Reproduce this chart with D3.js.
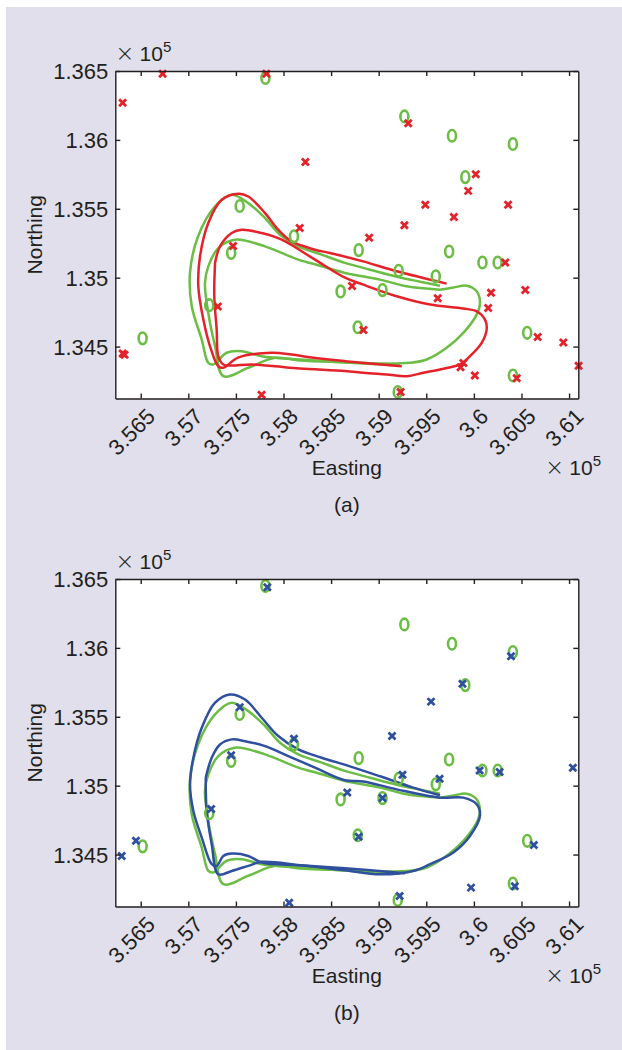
<!DOCTYPE html>
<html>
<head>
<meta charset="utf-8">
<script src="https://cdn.jsdelivr.net/npm/d3@7"></script>
<style>
  body { margin: 0; background: #fff; }
  svg { display: block; }
  text { font-family: "Liberation Sans", Arial, Helvetica, sans-serif; fill: #231f20; }
</style>
</head>
<body>
<div id="chart"></div>
<script>
// tick values (x 1e5)
var xTicks = [3.565, 3.57, 3.575, 3.58, 3.585, 3.59, 3.595, 3.6, 3.605, 3.61];
var xTickLabels = ["3.565", "3.57", "3.575", "3.58", "3.585", "3.59", "3.595", "3.6", "3.605", "3.61"];
var yTicks = [1.345, 1.35, 1.355, 1.36, 1.365];
var yTickLabels = ["1.345", "1.35", "1.355", "1.36", "1.365"];
var xDomain = [3.56233, 3.61097];
var yDomain = [1.34123, 1.365];

// true positions (o), same in both panels
var greenPoints = [
  [3.5781, 1.3645], [3.5927, 1.3617], [3.5977, 1.3603], [3.6041, 1.3597], [3.5991, 1.3573],
  [3.5754, 1.3552], [3.5811, 1.3530], [3.5745, 1.3518], [3.5879, 1.3520], [3.5974, 1.3519],
  [3.6009, 1.3511], [3.6025, 1.3511], [3.5921, 1.3505], [3.5960, 1.3501], [3.5860, 1.3490],
  [3.5904, 1.3491], [3.5722, 1.3480], [3.5878, 1.3464], [3.6056, 1.3460], [3.5652, 1.3456],
  [3.6041, 1.3429], [3.5920, 1.3417]
];
// estimates panel (a)
var redPoints = [
  [3.5631, 1.3627], [3.5673, 1.3648], [3.5782, 1.3648], [3.5823, 1.3584], [3.5817, 1.3536],
  [3.5747, 1.3523], [3.5931, 1.3612], [3.6002, 1.3575], [3.5994, 1.3563], [3.5949, 1.3553],
  [3.6036, 1.3553], [3.5979, 1.3544], [3.5927, 1.3538], [3.5890, 1.3529], [3.6033, 1.3511],
  [3.5872, 1.3494], [3.5962, 1.3485], [3.6018, 1.3489], [3.6054, 1.3491], [3.6015, 1.3478],
  [3.5884, 1.3462], [3.6067, 1.3457], [3.6094, 1.3453], [3.6110, 1.3436], [3.5989, 1.3438],
  [3.5986, 1.3435], [3.6001, 1.3429], [3.6045, 1.3427], [3.5923, 1.3417], [3.5731, 1.3479],
  [3.5631, 1.3445], [3.5633, 1.3444], [3.5777, 1.3415]
];
// estimates panel (b)
var bluePoints = [
  [3.5783, 1.3644], [3.5754, 1.3557], [3.5811, 1.3534], [3.5745, 1.3522], [3.6039, 1.3594],
  [3.5988, 1.3574], [3.5955, 1.3561], [3.5914, 1.3536], [3.6104, 1.3513], [3.6006, 1.3511],
  [3.6027, 1.3510], [3.5925, 1.3508], [3.5964, 1.3505], [3.5867, 1.3495], [3.5904, 1.3491],
  [3.5879, 1.3463], [3.6063, 1.3457], [3.5997, 1.3426], [3.6043, 1.3427], [3.5922, 1.3420],
  [3.5724, 1.3483], [3.5645, 1.3460], [3.5630, 1.3449], [3.5806, 1.3415]
];

// contour paths
var greenOuter = [[3.59644,1.34942],[3.59434,1.34971],[3.59189,1.35007],[3.58909,1.35058],[3.58646,1.35107],[3.58401,1.35167],[3.58155,1.35227],[3.57963,1.35312],[3.57806,1.35433],[3.57630,1.35541],[3.57456,1.35602],[3.57281,1.35517],[3.57102,1.35299],[3.57018,1.35036],[3.57036,1.34792],[3.57141,1.34551],[3.57210,1.34382],[3.57263,1.34370],[3.57403,1.34455],[3.57561,1.34466],[3.57771,1.34430],[3.58173,1.34406],[3.58646,1.34384],[3.59224,1.34363]];
var greenInner = [[3.59644,1.34913],[3.59784,1.34928],[3.59924,1.34942],[3.60029,1.34901],[3.60064,1.34817],[3.60029,1.34732],[3.59889,1.34599],[3.59714,1.34491],[3.59504,1.34406],[3.59329,1.34382],[3.59014,1.34377],[3.58646,1.34386],[3.58173,1.34399],[3.57911,1.34418],[3.57630,1.34346],[3.57368,1.34285],[3.57281,1.34502],[3.57210,1.34744],[3.57175,1.34962],[3.57210,1.35082],[3.57315,1.35215],[3.57491,1.35276],[3.57806,1.35227],[3.58155,1.35131],[3.58383,1.35087],[3.58646,1.35034],[3.59014,1.34986],[3.59294,1.34937],[3.59644,1.34913]];
var redOuter = [[3.59714,1.34957],[3.59189,1.35046],[3.58838,1.35118],[3.58488,1.35179],[3.58331,1.35203],[3.58086,1.35263],[3.57945,1.35348],[3.57806,1.35469],[3.57630,1.35589],[3.57525,1.35609],[3.57351,1.35565],[3.57210,1.35397],[3.57123,1.35155],[3.57105,1.34937],[3.57158,1.34696],[3.57228,1.34502],[3.57315,1.34357],[3.57368,1.34346],[3.57522,1.34420],[3.57876,1.34455],[3.58086,1.34442],[3.58296,1.34420],[3.58646,1.34394],[3.59242,1.34357]];
var redInner = [[3.57281,1.35107],[3.57333,1.35227],[3.57456,1.35324],[3.57561,1.35348],[3.57771,1.35324],[3.57981,1.35276],[3.58331,1.35131],[3.58646,1.35000],[3.58838,1.34949],[3.59189,1.34865],[3.59539,1.34805],[3.59889,1.34776],[3.60029,1.34756],[3.60117,1.34696],[3.60134,1.34623],[3.60082,1.34527],[3.59959,1.34430],[3.59854,1.34370],[3.59644,1.34334],[3.59469,1.34310],[3.59294,1.34285],[3.59084,1.34297],[3.58838,1.34310],[3.58646,1.34323],[3.58173,1.34341],[3.57911,1.34357],[3.57666,1.34370],[3.57368,1.34370],[3.57315,1.34430],[3.57298,1.34623],[3.57273,1.34865],[3.57281,1.35107]];
var blueOuter = [[3.59644,1.34930],[3.59363,1.34986],[3.59014,1.35068],[3.58698,1.35140],[3.58401,1.35203],[3.58155,1.35263],[3.57945,1.35360],[3.57771,1.35493],[3.57596,1.35625],[3.57438,1.35662],[3.57281,1.35602],[3.57141,1.35420],[3.57053,1.35203],[3.57018,1.35010],[3.57053,1.34816],[3.57141,1.34623],[3.57246,1.34430],[3.57298,1.34418],[3.57368,1.34490],[3.57456,1.34507],[3.57630,1.34490],[3.57771,1.34442],[3.58173,1.34423],[3.58646,1.34401],[3.59276,1.34365]];
var blueInner = [[3.57183,1.35058],[3.57246,1.35203],[3.57333,1.35299],[3.57456,1.35336],[3.57596,1.35323],[3.57806,1.35287],[3.58050,1.35215],[3.58331,1.35131],[3.58646,1.35039],[3.58838,1.35031],[3.59189,1.34973],[3.59644,1.34913],[3.59889,1.34913],[3.60029,1.34865],[3.60064,1.34780],[3.59959,1.34635],[3.59784,1.34515],[3.59539,1.34430],[3.59363,1.34381],[3.59014,1.34357],[3.58646,1.34386],[3.58173,1.34423],[3.57771,1.34447],[3.57630,1.34418],[3.57456,1.34381],[3.57315,1.34357],[3.57246,1.34575],[3.57193,1.34816],[3.57183,1.35058]];

var GREEN = "#6cbd45", RED = "#e5222a", BLUE = "#2f4f9f", INK = "#231f20";

var W = 622, H = 1050;
var svg = d3.select("#chart").append("svg").attr("width", W).attr("height", H);
svg.append("rect").attr("x", 6).attr("y", 7).attr("width", W - 6).attr("height", H - 7).attr("fill", "#e1dfeb");

// "× 10^5" exponent label
function expLabel(g, xPos, yPos) {
    var t = g.append("text").attr("x", xPos).attr("y", yPos).attr("font-size", 21);
    t.append("tspan").attr("font-family", "DejaVu Sans").attr("font-size", 23).attr("font-weight", 200).text("\u00d7");
    t.append("tspan").attr("dx", 5).text("10");
    t.append("tspan").attr("font-size", 15).attr("dy", -9).text("5");
}

function drawPanel(top, crossPts, crossColor, lines, tag) {
    var left = 115.3, right = 578.3, bottom = top + 327.5;
    var x = d3.scaleLinear().domain(xDomain).range([left, right]);
    var y = d3.scaleLinear().domain(yDomain).range([bottom, top]);
    var g = svg.append("g");

    g.append("rect").attr("x", left).attr("y", top).attr("width", right - left).attr("height", bottom - top).attr("fill", "#fff");

    // contours
    var line = d3.line().x(function(d) { return x(d[0]); }).y(function(d) { return y(d[1]); }).curve(d3.curveCatmullRom);
    lines.forEach(function(l) {
        g.append("path").attr("d", line(l.data)).attr("fill", "none")
            .attr("stroke", l.color).attr("stroke-width", 2.5).attr("stroke-linejoin", "round");
    });

    // true positions
    g.selectAll(".o").data(greenPoints).enter().append("ellipse")
        .attr("cx", function(d) { return x(d[0]); })
        .attr("cy", function(d) { return y(d[1]); })
        .attr("rx", 4).attr("ry", 5.8)
        .attr("fill", "none").attr("stroke", GREEN).attr("stroke-width", 2.6);

    // estimates
    var s = 3.5;
    g.selectAll(".x").data(crossPts).enter().append("path")
        .attr("d", function(d) {
            var cx = x(d[0]), cy = y(d[1]);
            return "M" + (cx - s) + "," + (cy - s) + "L" + (cx + s) + "," + (cy + s) +
                   "M" + (cx - s) + "," + (cy + s) + "L" + (cx + s) + "," + (cy - s);
        })
        .attr("stroke", crossColor).attr("stroke-width", 2.8).attr("fill", "none");

    // axes (ticks inside, box)
    var ax = [
        d3.axisBottom(x).tickValues(xTicks).tickSizeInner(-5).tickSizeOuter(0).tickFormat(function(d, i) { return xTickLabels[i]; }),
        d3.axisTop(x).tickValues(xTicks).tickSizeInner(-5).tickSizeOuter(0).tickFormat(""),
        d3.axisLeft(y).tickValues(yTicks).tickSizeInner(-5).tickSizeOuter(0).tickFormat(function(d, i) { return yTickLabels[i]; }),
        d3.axisRight(y).tickValues(yTicks).tickSizeInner(-5).tickSizeOuter(0).tickFormat("")
    ];
    var pos = ["translate(0," + bottom + ")", "translate(0," + top + ")", "translate(" + left + ",0)", "translate(" + right + ",0)"];
    var axisGroups = [];
    ax.forEach(function(a, i) {
        var ag = g.append("g").attr("transform", pos[i]).call(a);
        ag.attr("font-family", null);
        ag.selectAll("path, line").attr("stroke", INK).attr("stroke-width", 1.4);
        ag.selectAll("text").attr("font-size", 22).attr("fill", INK);
        axisGroups.push(ag);
    });
    // rotated x tick labels
    axisGroups[0].selectAll(".tick text")
        .attr("y", null).attr("dy", null)
        .attr("text-anchor", "end")
        .attr("dominant-baseline", "central")
        .attr("transform", "translate(10,14) rotate(-45)");
    axisGroups[2].selectAll(".tick text").attr("x", -7).attr("dy", "0.36em");

    // labels
    g.append("text").attr("x", (left + right) / 2).attr("y", bottom + 76)
        .attr("text-anchor", "middle").attr("font-size", 21).text("Easting");
    expLabel(g, 545, bottom + 76);
    expLabel(g, left, top - 10);
    g.append("text").attr("transform", "translate(42," + ((top + bottom) / 2) + ") rotate(-90)")
        .attr("text-anchor", "middle").attr("font-size", 21).text("Northing");
    g.append("text").attr("x", (left + right) / 2).attr("y", bottom + 113)
        .attr("text-anchor", "middle").attr("font-size", 21).text(tag);
}

drawPanel(71, redPoints, RED, [
    { data: greenOuter, color: GREEN }, { data: greenInner, color: GREEN },
    { data: redOuter, color: RED }, { data: redInner, color: RED }
], "(a)");
drawPanel(579, bluePoints, BLUE, [
    { data: greenOuter, color: GREEN }, { data: greenInner, color: GREEN },
    { data: blueOuter, color: BLUE }, { data: blueInner, color: BLUE }
], "(b)");
</script>
</body>
</html>
